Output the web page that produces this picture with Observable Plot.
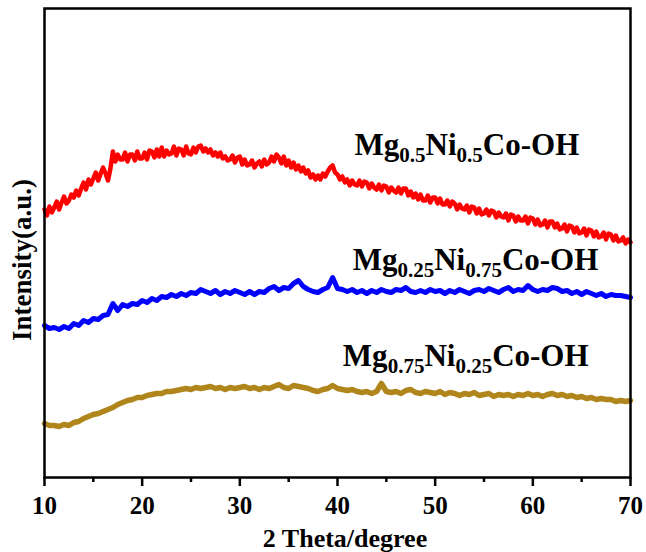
<!DOCTYPE html>
<html>
<head>
<meta charset="utf-8">
<script src="https://cdn.jsdelivr.net/npm/d3@7"></script>
<script src="https://cdn.jsdelivr.net/npm/@observablehq/plot@0.6"></script>
<style>
  html, body { margin: 0; padding: 0; background: #fff; }
</style>
</head>
<body>
<div id="chart"></div>
<script>
// 2θ grid steps (degrees)
const redStep = 0.25;
const otherStep = 0.5;
const startAngle = 10;

// Mg0.5Ni0.5Co-OH intensity (a.u.), 10..70 every 0.25°
const redIntensity = [
  276,270,279,273, 278,284,276,283, 289,282,285,291, 288,295,290,297, 303,296,306,301,
  307,313,305,312, 318,312,305,317, 334,324,331,326, 326,333,324,331, 331,325,334,327,
  327,333,326,335, 334,328,336,329, 338,329,335,331, 332,339,330,337, 336,330,339,332,
  331,338,333,339, 340,334,337,333, 336,330,333,329, 333,327,329,325, 326,330,323,328,
  329,321,326,320, 321,325,318,322, 324,319,326,321, 323,329,324,331, 328,322,329,320,
  325,318,323,316, 320,314,318,312, 315,308,311,306, 310,306,312,309, 314,318,320,313,
  311,306,309,303, 306,300,305,301, 300,305,299,304, 303,297,302,298, 296,301,295,300,
  299,293,298,295, 293,298,292,297, 297,290,294,288, 292,286,291,285, 285,290,283,288,
  288,282,287,281, 281,285,279,284, 282,276,281,277, 276,280,273,279, 278,272,277,271,
  272,276,270,275, 274,268,273,269, 268,272,265,271, 270,264,269,265, 265,269,262,268,
  267,261,266,260, 261,265,258,264, 264,258,262,256, 257,261,254,260, 259,253,258,252,
  253,257,250,256, 255,249,254,248, 249,253,246,252, 251,245,250,244, 245,248,242,246,
  243
];

// Mg0.25Ni0.75Co-OH intensity (a.u.), 10..70 every 0.5°
const blueIntensity = [
  160,157,158,156,159,157,162,160,165,163,
  167,166,170,171,182,175,181,179,182,181,
  185,183,187,185,189,188,191,189,192,190,
  193,192,196,194,192,195,191,194,192,195,
  193,191,194,191,194,193,197,199,195,198,
  197,202,205,199,196,194,193,196,198,208,
  197,196,194,196,193,195,192,195,193,196,
  194,193,196,195,198,194,193,195,193,196,
  194,195,192,195,193,196,194,192,195,196,
  194,197,195,193,196,198,194,196,195,200,
  196,194,196,195,198,197,194,195,192,194,
  191,194,192,190,192,189,191,190,190,189,
  188
];

// Mg0.75Ni0.25Co-OH intensity (a.u.), 10..70 every 0.5°
const goldIntensity = [
  62,60,60,59,61,60,63,64,67,69,
  71,72,74,76,78,81,83,85,86,88,
  88,90,91,92,92,94,94,95,96,97,
  96,98,97,98,99,97,98,96,98,97,
  98,99,97,98,96,98,97,99,101,98,
  97,100,99,98,97,95,94,96,97,100,
  97,96,95,96,94,93,94,92,94,102,
  94,93,94,92,95,96,93,92,94,93,
  92,94,91,93,92,90,92,91,93,90,
  91,92,89,91,90,91,89,91,90,92,
  90,91,89,91,92,90,91,89,90,88,
  89,87,88,86,87,86,86,84,85,84,
  85
];

const xMajorTicks = [10, 20, 30, 40, 50, 60, 70];
const xMinorTicks = [15, 25, 35, 45, 55, 65];

const seriesNames = ["Mg0.5Ni0.5Co-OH", "Mg0.25Ni0.75Co-OH", "Mg0.75Ni0.25Co-OH"];
const seriesColors = ["#ff0000", "#0000ff", "#b0861c"];
// label parts: [text, isSubscript]; anchor in data units (2θ, intensity)
const labelParts = [
  [["Mg", 0], ["0.5", 1], ["Ni", 0], ["0.5", 1], ["Co-OH", 0]],
  [["Mg", 0], ["0.25", 1], ["Ni", 0], ["0.75", 1], ["Co-OH", 0]],
  [["Mg", 0], ["0.75", 1], ["Ni", 0], ["0.25", 1], ["Co-OH", 0]]
];
const labelX = [41.8, 41.6, 40.6];
const labelY = [330, 215, 119];

const xTitle = "2 Theta/degree";
const yTitle = "Intensity(a.u.)";

function toRows(values, step) {
  return values.map((v, i) => ({t: startAngle + i * step, i: v}));
}
const redRows = toRows(redIntensity, redStep);
const blueRows = toRows(blueIntensity, otherStep);
const goldRows = toRows(goldIntensity, otherStep);

const FONT = "'Liberation Serif', 'Times New Roman', serif";

const chart = Plot.plot({
  width: 646,
  height: 552,
  marginLeft: 44,
  marginRight: 16,
  marginTop: 8,
  marginBottom: 75,
  x: {domain: [10, 70]},
  y: {domain: [8, 477], axis: null},
  style: {fontFamily: FONT, fontWeight: "bold", background: "white", color: "black"},
  marks: [
    Plot.line(goldRows, {x: "t", y: "i", stroke: seriesColors[2], strokeWidth: 5.5, strokeLinejoin: "round"}),
    Plot.line(blueRows, {x: "t", y: "i", stroke: seriesColors[1], strokeWidth: 5, strokeLinejoin: "round"}),
    Plot.line(redRows, {x: "t", y: "i", stroke: seriesColors[0], strokeWidth: 4.5, strokeLinejoin: "round"}),
    Plot.axisX({ticks: xMinorTicks, tickSize: 5, strokeWidth: 2.5, tickFormat: () => "", label: null}),
    Plot.axisX({ticks: xMajorTicks, tickSize: 9, tickPadding: 10, strokeWidth: 2.5, fontSize: 25, label: null}),
    Plot.frame({stroke: "black", strokeWidth: 2.5})
  ]
});

const svg = d3.select(chart);
const xs = chart.scale("x");
const ys = chart.scale("y");

labelParts.forEach((parts, k) => {
  const t = svg.append("text")
    .attr("x", xs.apply(labelX[k]))
    .attr("y", ys.apply(labelY[k]))
    .attr("text-anchor", "start")
    .attr("font-family", FONT)
    .attr("font-weight", "bold")
    .attr("font-size", 31)
    .attr("fill", "black");
  let shifted = false;
  parts.forEach(([s, sub]) => {
    const ts = t.append("tspan").text(s);
    if (sub && !shifted) { ts.attr("dy", 7).attr("font-size", 21); shifted = true; }
    else if (sub) { ts.attr("font-size", 21); }
    else if (shifted) { ts.attr("dy", -7); shifted = false; }
  });
});

svg.append("text")
  .attr("x", 345)
  .attr("y", 547)
  .attr("text-anchor", "middle")
  .attr("font-family", FONT)
  .attr("font-weight", "bold")
  .attr("font-size", 26)
  .text(xTitle);

svg.append("text")
  .attr("transform", "translate(31,260) rotate(-90)")
  .attr("text-anchor", "middle")
  .attr("font-family", FONT)
  .attr("font-weight", "bold")
  .attr("font-size", 27)
  .text(yTitle);

document.getElementById("chart").appendChild(chart);
</script>
</body>
</html>
